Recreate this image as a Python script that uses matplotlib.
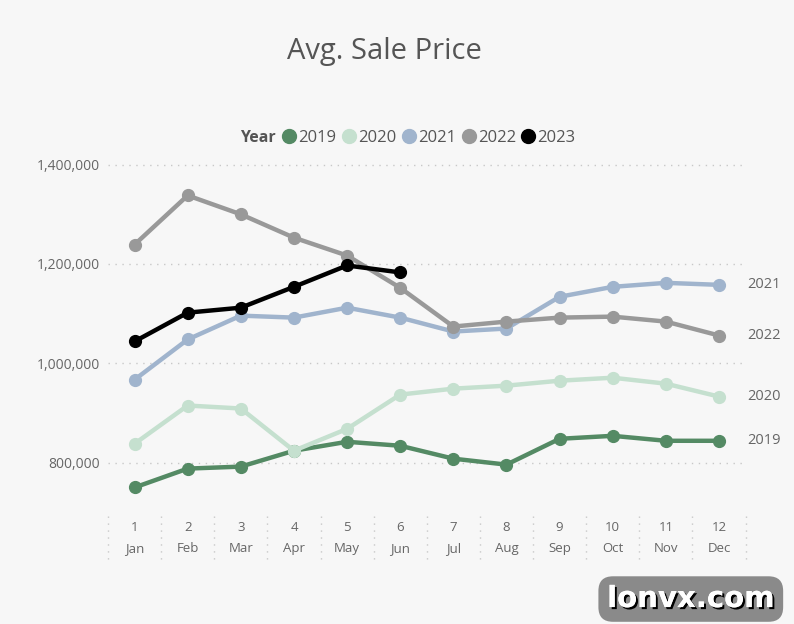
import matplotlib.pyplot as plt
import matplotlib.patheffects as pe
import matplotlib.transforms as mtransforms

plt.rcParams['font.family'] = ['Open Sans', 'DejaVu Sans']

# data
months = ['Jan', 'Feb', 'Mar', 'Apr', 'May', 'Jun',
          'Jul', 'Aug', 'Sep', 'Oct', 'Nov', 'Dec']
month_nums = list(range(1, 13))
years = ['2019', '2020', '2021', '2022', '2023']
price_2019 = [750000, 788000, 792000, 824000, 842000, 834000,
              808000, 796000, 848000, 854000, 844000, 844000]
price_2020 = [838000, 915000, 909000, 824000, 868000, 937000,
              949000, 955000, 965000, 971000, 959000, 933000]
price_2021 = [967000, 1048000, 1096000, 1092000, 1112000, 1092000,
              1064000, 1070000, 1134000, 1154000, 1162000, 1158000]
price_2022 = [1239000, 1338000, 1300000, 1253000, 1217000, 1152000,
              1074000, 1084000, 1092000, 1094000, 1084000, 1056000]
price_2023 = [1044000, 1102000, 1112000, 1154000, 1197000, 1183000]
yticks = [800000, 1000000, 1200000, 1400000]

colors = ['#548a64', '#c5e0cf', '#a0b4cd', '#999999', '#000000']
series = [price_2019, price_2020, price_2021, price_2022, price_2023]

bg = '#f7f7f7'
fig = plt.figure(figsize=(7.94, 6.24), dpi=100, facecolor=bg)
ax = fig.add_axes([0.136, 0.179, 0.803, 0.581], facecolor=bg)

for yr, vals, c in zip(years, series, colors):
    ax.plot(month_nums[:len(vals)], vals, color=c, lw=3.2,
            marker='o', ms=8.5, solid_capstyle='round', label=yr)
    # end label for full-year series
    if len(vals) == 12:
        ax.annotate(yr, (12, vals[-1]), xytext=(20, 0),
                    textcoords='offset points', va='center', ha='left',
                    fontsize=10.5, color='#666666', annotation_clip=False)

ax.set_xlim(0.5, 12.5)
ax.set_ylim(700000, 1430000)
ax.set_yticks(yticks)
ax.set_yticklabels(['{:,}'.format(v) for v in yticks])
ax.tick_params(axis='y', length=0, pad=6, labelsize=10, labelcolor='#666666')
ax.yaxis.grid(True, linestyle=(0, (1, 4)), color='#c8c8c8', lw=1)
ax.set_axisbelow(True)
for s in ax.spines.values():
    s.set_visible(False)

# two row category axis
ax.set_xticks(month_nums)
ax.set_xticklabels(['{}\n{}'.format(n, m) for n, m in zip(month_nums, months)],
                   linespacing=1.8)
ax.tick_params(axis='x', length=0, pad=6.5, labelsize=9.5, labelcolor='#666666')
trans = mtransforms.blended_transform_factory(ax.transData, ax.transAxes)
for i in range(len(months) + 1):
    ax.plot([i + 0.5, i + 0.5], [-0.01, -0.14], transform=trans,
            color='#c8c8c8', lw=1, linestyle=(0, (1, 4)), clip_on=False)

fig.text(0.484, 0.918, 'Avg. Sale Price', ha='center', va='center',
         fontsize=21, color='#555555')

fig.text(0.302, 0.779, 'Year', ha='left', va='center', fontsize=11.5,
         fontweight='bold', color='#555555')
leg_handles = [plt.Line2D([], [], ls='', marker='o', ms=10, color=c)
               for c in colors]
fig.legend(leg_handles, years, loc='center left', bbox_to_anchor=(0.357, 0.779),
           ncol=5, frameon=False, handlelength=0.7, handletextpad=0.2,
           columnspacing=0.4, fontsize=12, labelcolor='#555555',
           borderaxespad=0, borderpad=0)

# watermark
t = fig.text(0.87, 0.04, 'lonvx.com', ha='center', va='center', fontsize=21,
             fontweight='bold', color='white', family=['DejaVu Sans'],
             bbox=dict(boxstyle='round,pad=0.3,rounding_size=0.5',
                       fc='#8a8a8a', ec='none'))
t.set_path_effects([pe.withSimplePatchShadow(offset=(1.5, -1.5),
                                             shadow_rgbFace='black', alpha=1),
                    pe.Normal()])

fig.savefig('out.png', dpi=100, facecolor=bg)
